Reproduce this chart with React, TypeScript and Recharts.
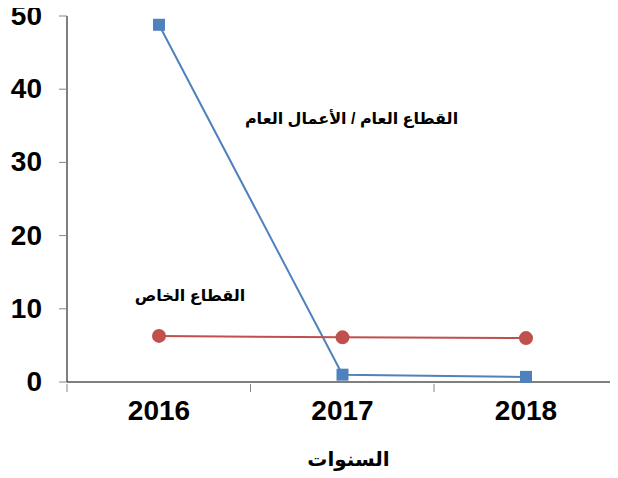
import React from "react";
import {
  LineChart,
  Line,
  XAxis,
  YAxis,
  ReferenceDot,
} from "recharts";

const years = ["2016", "2017", "2018"];
const publicSector = [48.8, 1.0, 0.7];
const privateSector = [6.3, 6.1, 6.0];
const yTicks = [0, 10, 20, 30, 40, 50];

const data = years.map((year, i) => ({
  year,
  pub: publicSector[i],
  priv: privateSector[i],
}));

const FONT = "'Liberation Sans', Arial, 'DejaVu Sans', sans-serif";
const HALF_BAND = 92;

const Square = (props: any) => {
  const { cx, cy } = props;
  if (cx == null || cy == null) return null;
  return <rect x={cx - 6} y={cy - 6} width={12} height={12} fill="#4F81BD" />;
};

// category labels, with tick marks on the band edges (like excel)
const XTick = (props: any) => {
  const { x, y, payload, index, visibleTicksCount } = props;
  const axisY = y;
  const last = index === visibleTicksCount - 1;
  return (
    <g>
      <line x1={x - HALF_BAND} x2={x - HALF_BAND} y1={axisY} y2={axisY + 8} stroke="#868686" />
      {last && (
        <line x1={x + HALF_BAND} x2={x + HALF_BAND} y1={axisY} y2={axisY + 8} stroke="#868686" />
      )}
      <text
        x={x}
        y={y + 36}
        textAnchor="middle"
        fontSize={28}
        fontWeight="bold"
        fontFamily={FONT}
        fill="#000"
      >
        {payload.value}
      </text>
    </g>
  );
};

const YTick = (props: any) => {
  const { x, y, payload } = props;
  return (
    <text
      x={x}
      y={y + 9}
      textAnchor="end"
      fontSize={28}
      fontWeight="bold"
      fontFamily={FONT}
      fill="#000"
    >
      {payload.value}
    </text>
  );
};

const Note = (text: string, dx: number) => (props: any) => {
  const { viewBox } = props;
  return (
    <text
      x={viewBox.x + dx}
      y={viewBox.y + 6}
      textAnchor="middle"
      fontSize={16}
      fontWeight="bold"
      fontFamily={FONT}
      fill="#000"
      direction="rtl"
    >
      {text}
    </text>
  );
};

const App = () => {
  return (
    <div style={{ position: "relative", top: -8, left: -8, width: 618, height: 478 }}>
      <LineChart
        width={618}
        height={478}
        data={data}
        margin={{ top: 16, right: 0, left: 0, bottom: 36 }}
      >
        <XAxis
          dataKey="year"
          padding={{ left: HALF_BAND, right: HALF_BAND }}
          stroke="#000"
          tickLine={false}
          tickSize={0}
          tick={<XTick />}
          height={60}
          label={{
            value: "السنوات",
            position: "bottom",
            offset: 10,
            dx: 6,
            fontSize: 20,
            fontWeight: "bold",
            fontFamily: FONT,
            fill: "#000",
          }}
        />
        <YAxis
          domain={[0, 50]}
          ticks={yTicks}
          width={67}
          stroke="#000"
          tickLine={{ stroke: "#868686" }}
          tickSize={8}
          tickMargin={17}
          tick={<YTick />}
        />
        <Line
          dataKey="pub"
          stroke="#4F81BD"
          strokeWidth={2}
          dot={<Square />}
          isAnimationActive={false}
        />
        <Line
          dataKey="priv"
          stroke="#C0504D"
          strokeWidth={2}
          dot={{ r: 6, fill: "#C0504D", stroke: "#C0504D" }}
          isAnimationActive={false}
        />
        <ReferenceDot
          x="2017"
          y={36}
          r={0}
          label={Note("القطاع العام / الأعمال العام", 9)}
        />
        <ReferenceDot
          x="2016"
          y={11.9}
          r={0}
          label={Note("القطاع الخاص", 31)}
        />
      </LineChart>
    </div>
  );
};

export default App;
